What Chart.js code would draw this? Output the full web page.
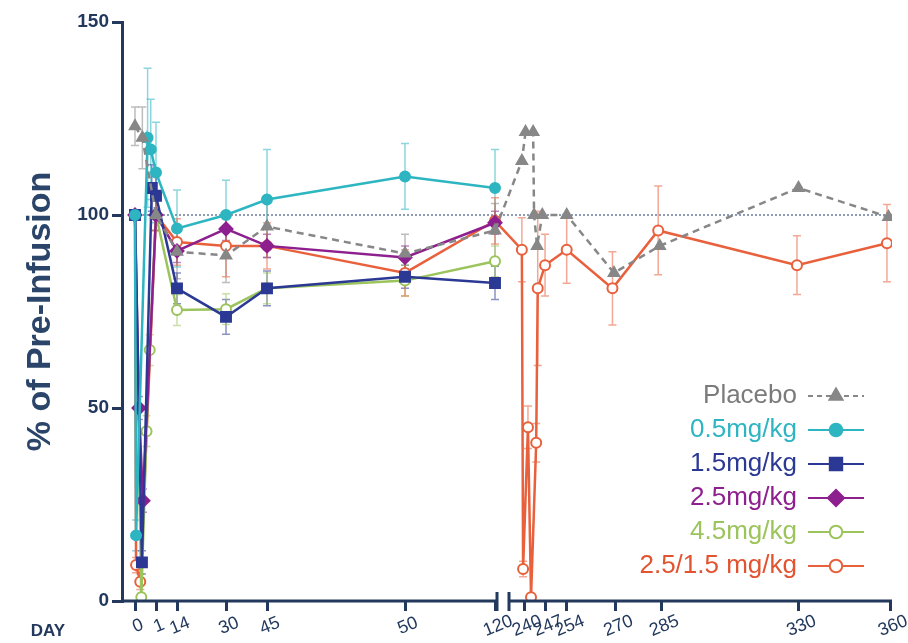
<!DOCTYPE html>
<html>
<head>
<meta charset="utf-8">
<script src="https://cdn.jsdelivr.net/npm/chart.js@4.4.0/dist/chart.umd.min.js"></script>
<style>
  html, body { margin: 0; padding: 0; background: #fff; }
</style>
</head>
<body>
<canvas id="chart" width="908" height="643"></canvas>
<script>
// tick labels on the (broken) day axis
const tickDays = [0, 1, 14, 30, 45, 50, 120, 240, 247, 254, 270, 285, 330, 360];
const yTicks = [0, 50, 100, 150];

// series: day, % of pre-infusion, error
const placeboDays = [0, 0.35, 1, 14, 30, 45, 50, 120, 239.3, 240.5, 243, 243.3, 244.3, 246, 254, 269.5, 284.5, 330, 359.5];
const placeboVals = [123, 120, 100, 90.5, 89.5, 97, 90, 96, 114, 121.5, 121.5, 100, 92, 100, 100, 85, 92, 107, 99.5];
const placeboErr  = [5, 8, 4, 7, 7, 8, 5, 7, 0, 0, 0, 0, 0, 0, 0, 0, 0, 0, 0];

const dose05Days = [0, 0.05, 0.6, 0.75, 1, 14, 30, 45, 50, 120];
const dose05Vals = [100, 17, 120, 117, 111, 96.5, 100, 104, 110, 107];
const dose05Err  = [0, 4, 18, 13, 13, 10, 9, 13, 8.5, 10];

const dose15Days = [0, 0.33, 0.8, 1, 14, 30, 45, 50, 120];
const dose15Vals = [100, 10, 107, 105, 81, 73.6, 81, 84, 82.4];
const dose15Err  = [0, 3, 6, 5, 4, 4.5, 4.5, 3, 4.3];

const dose25Days = [0, 0.19, 0.38, 1, 14, 30, 45, 50, 120];
const dose25Vals = [100, 50, 26, 100, 90.7, 96.4, 92, 89, 98];
const dose25Err  = [0, 3, 3, 4, 3, 3, 3, 3, 3];

const dose45Days = [0, 0.3, 0.55, 0.7, 1, 14, 30, 45, 50, 120];
const dose45Vals = [100, 1, 44, 65, 100, 75.4, 75.6, 81, 83, 88];
const dose45Err  = [0, 1, 4, 4, 4, 4, 4, 4, 4, 4];

const redoseDays = [0, 0.05, 0.25, 1, 14, 30, 45, 50, 120, 239.3, 239.7, 241.3, 242.3, 244, 244.5, 246.9, 254, 269, 284, 329.5, 359];
const redoseVals = [100, 9.3, 5, 100, 93, 92, 92, 85, 98.5, 91, 8.3, 45, 1, 41, 81, 87, 91, 81, 96, 87, 92.7];
const redoseErr  = [0, 2, 2, 4, 6, 8, 6, 6, 6, 8.3, 2, 5.5, 0, 5, 20, 8, 8.7, 9.5, 11.5, 7.6, 10];

// axis mapping: first segment is irregular, second is linear after the break
const segDays  = [0, 1, 14, 30, 45, 50, 120];
const segUnits = [0, 21, 42, 91, 132, 270, 360];
function dayToAxis(d) {
  if (d > 150) return 389 + (d - 240) * 3.05;
  for (let i = 1; i < segDays.length; i++) {
    if (d <= segDays[i]) {
      const t = (d - segDays[i - 1]) / (segDays[i] - segDays[i - 1]);
      return segUnits[i - 1] + t * (segUnits[i] - segUnits[i - 1]);
    }
  }
  return segUnits[segUnits.length - 1];
}
const pts = (days, vals) => days.map((d, i) => ({ x: dayToAxis(d), y: vals[i] }));

const NAVY = '#22395d';
const FONT = '"Liberation Sans", Arial, sans-serif';

const series = [
  { label: 'Placebo', days: placeboDays, vals: placeboVals, err: placeboErr, color: '#878787', text: '#7b7b7b', style: 'triangle', r: 6, fill: true, dash: [7, 5] },
  { label: '0.5mg/kg', days: dose05Days, vals: dose05Vals, err: dose05Err, color: '#2db5c1', text: '#2db5c1', style: 'circle', r: 5, fill: true },
  { label: '1.5mg/kg', days: dose15Days, vals: dose15Vals, err: dose15Err, color: '#2b3994', text: '#2b3994', style: 'rect', r: 7, fill: true },
  { label: '2.5mg/kg', days: dose25Days, vals: dose25Vals, err: dose25Err, color: '#8d1f8e', text: '#8d1f8e', style: 'rectRot', r: 6.5, fill: true },
  { label: '4.5mg/kg', days: dose45Days, vals: dose45Vals, err: dose45Err, color: '#9cc45c', text: '#9cc45c', style: 'circle', r: 5, fill: false },
  { label: '2.5/1.5 mg/kg', days: redoseDays, vals: redoseVals, err: redoseErr, color: '#e8603c', text: '#e2532f', style: 'circle', r: 5, fill: false }
];

function fade(hex, a) {
  const n = parseInt(hex.slice(1), 16);
  return `rgba(${n >> 16},${(n >> 8) & 255},${n & 255},${a})`;
}

// error bars + reference line under the series
const underlay = {
  id: 'underlay',
  beforeDatasetsDraw(chart) {
    const { ctx, chartArea, scales: { x, y } } = chart;
    ctx.save();
    // dotted 100% line
    ctx.strokeStyle = '#8e9bb3';
    ctx.lineWidth = 2;
    ctx.setLineDash([2, 2]);
    ctx.beginPath();
    ctx.moveTo(x.getPixelForValue(0), y.getPixelForValue(100));
    ctx.lineTo(chartArea.right, y.getPixelForValue(100));
    ctx.stroke();
    ctx.setLineDash([]);
    // error bars
    series.forEach(s => {
      ctx.strokeStyle = fade(s.color, 0.55);
      ctx.lineWidth = 1.5;
      s.days.forEach((d, i) => {
        const e = s.err[i];
        if (!e) return;
        const px = x.getPixelForValue(dayToAxis(d));
        const y1 = y.getPixelForValue(s.vals[i] + e);
        const y2 = y.getPixelForValue(Math.max(0, s.vals[i] - e));
        ctx.beginPath();
        ctx.moveTo(px, y1); ctx.lineTo(px, y2);
        ctx.moveTo(px - 4, y1); ctx.lineTo(px + 4, y1);
        ctx.moveTo(px - 4, y2); ctx.lineTo(px + 4, y2);
        ctx.stroke();
      });
    });
    ctx.restore();
  }
};

// broken x axis line, day labels, legend
const overlay = {
  id: 'overlay',
  afterDraw(chart) {
    const { ctx, chartArea, scales: { x } } = chart;
    const yb = chartArea.bottom;
    const bL = x.getPixelForValue(362), bR = x.getPixelForValue(374);
    ctx.save();
    ctx.strokeStyle = NAVY;
    ctx.lineWidth = 3;
    ctx.beginPath();
    ctx.moveTo(chartArea.left - 1, yb); ctx.lineTo(bL, yb);
    ctx.moveTo(bR, yb); ctx.lineTo(chartArea.right, yb);
    ctx.moveTo(bL, yb - 9); ctx.lineTo(bL, yb + 10);
    ctx.moveTo(bR, yb - 9); ctx.lineTo(bR, yb + 10);
    ctx.stroke();

    ctx.fillStyle = NAVY;
    ctx.font = `18px ${FONT}`;
    ctx.textAlign = 'center';
    ctx.textBaseline = 'middle';
    tickDays.forEach(d => {
      ctx.save();
      ctx.translate(x.getPixelForValue(dayToAxis(d)) + 3, yb + 25);
      ctx.rotate(-22 * Math.PI / 180);
      ctx.fillText(String(d), 0, 0);
      ctx.restore();
    });
    ctx.font = `bold 17px ${FONT}`;
    ctx.fillText('DAY', 48, yb + 30);

    // legend
    series.forEach((s, i) => {
      const ly = 396 + i * 34;
      ctx.font = `26px ${FONT}`;
      ctx.textAlign = 'right';
      ctx.fillStyle = s.text;
      ctx.fillText(s.label, 797, ly);
      ctx.strokeStyle = s.color;
      ctx.lineWidth = 2;
      ctx.setLineDash(s.dash ? [5, 4] : []);
      ctx.beginPath();
      ctx.moveTo(808, ly); ctx.lineTo(864, ly);
      ctx.stroke();
      ctx.setLineDash([]);
      ctx.fillStyle = s.fill ? s.color : '#fff';
      Chart.helpers.drawPoint(ctx, { pointStyle: s.style, radius: s.r * 1.25, borderWidth: 2, rotation: 0 }, 836, ly);
    });
    ctx.restore();
  }
};

new Chart(document.getElementById('chart'), {
  type: 'line',
  data: {
    datasets: series.map(s => ({
      label: s.label,
      data: pts(s.days, s.vals),
      borderColor: s.color,
      backgroundColor: s.fill ? s.color : '#fff',
      pointBackgroundColor: s.fill ? s.color : '#fff',
      pointBorderColor: s.color,
      pointBorderWidth: 2,
      pointStyle: s.style,
      pointRadius: s.r,
      borderWidth: 2.5,
      borderDash: s.dash || [],
      tension: 0
    }))
  },
  options: {
    responsive: false,
    animation: false,
    layout: { padding: { top: 22, right: 16, left: 0, bottom: 0 } },
    plugins: { legend: { display: false }, tooltip: { enabled: false } },
    scales: {
      x: {
        type: 'linear',
        min: -13,
        max: 757,
        afterBuildTicks: s => { s.ticks = tickDays.map(d => ({ value: dayToAxis(d) })); },
        afterFit: s => { s.height = 42; },
        ticks: { display: false },
        grid: { drawOnChartArea: false, drawTicks: true, tickLength: 10, color: NAVY, lineWidth: 3 },
        border: { display: false }
      },
      y: {
        min: 0,
        max: 150,
        afterBuildTicks: s => { s.ticks = yTicks.map(v => ({ value: v })); },
        afterFit: s => { s.width = 122; },
        ticks: { color: NAVY, padding: 3, font: { family: FONT, size: 19, weight: 'bold' } },
        grid: { drawOnChartArea: false, drawTicks: true, tickLength: 10, color: NAVY, lineWidth: 3 },
        border: { display: true, color: NAVY, width: 3 },
        title: {
          display: true,
          text: '% of Pre-Infusion',
          color: '#2a4569',
          font: { family: FONT, size: 34, weight: 'bold' },
          padding: { top: 20, bottom: 0 }
        }
      }
    }
  },
  plugins: [underlay, overlay]
});
</script>
</body>
</html>
